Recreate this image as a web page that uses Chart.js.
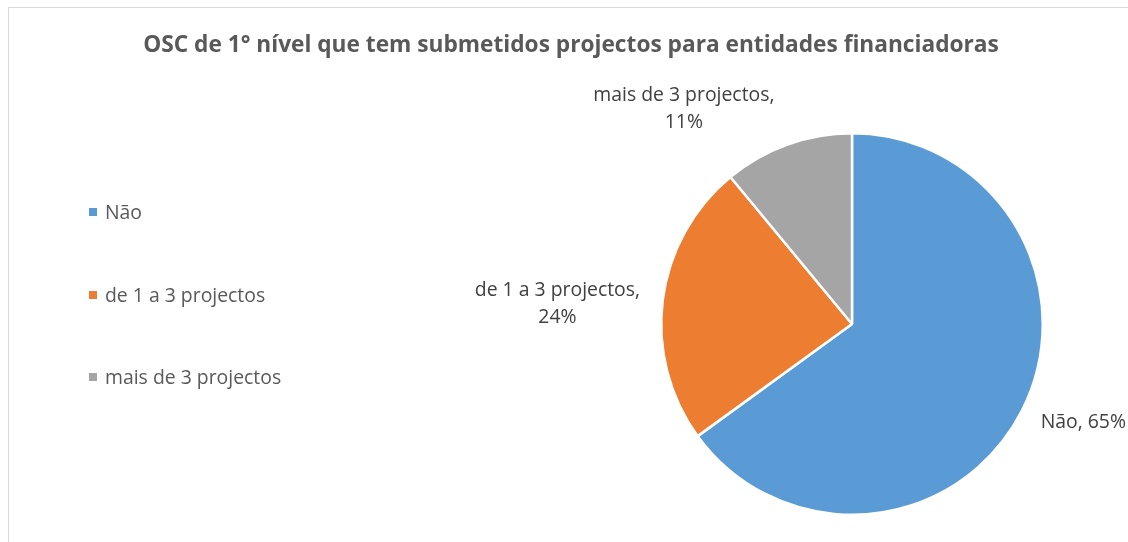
<!DOCTYPE html>
<html>
<head>
<meta charset="utf-8">
<script src="https://cdn.jsdelivr.net/npm/chart.js@4"></script>
<style>
  html, body { margin: 0; padding: 0; background: #fff; }
  #wrap { position: relative; width: 1128px; height: 542px; }
  #frame { position: absolute; left: 8px; top: 7px; width: 1200px; height: 600px; border: 1px solid #d9d9d9; box-sizing: border-box; }
  canvas { position: absolute; left: 0; top: 0; }
</style>
</head>
<body>
<div id="wrap">
  <div id="frame"></div>
  <canvas id="pie" width="1128" height="542"></canvas>
</div>
<script>
// Data
const categories = ['Não', 'de 1 a 3 projectos', 'mais de 3 projectos'];
const shares = [65, 24, 11];
const sliceColors = ['#5B9BD5', '#ED7D31', '#A5A5A5'];
const chartTitle = 'OSC de 1° nível que tem submetidos projectos para entidades financiadoras';

const FONT = "'Open Sans', sans-serif";

// label distance (x radius) and small vertical nudge per slice, like Excel's best fit
const labelDist = [1.11, 1.12, 1.2];
const labelNudge = [2, 7, 0];

const overlay = {
  id: 'overlay',
  afterDraw(chart) {
    const ctx = chart.ctx;
    ctx.save();

    // title
    ctx.fillStyle = '#595959';
    ctx.font = "bold 22.7px " + FONT;
    ctx.textAlign = 'center';
    ctx.textBaseline = 'middle';
    ctx.fillText(chartTitle, 571, 46);

    // legend
    ctx.font = "19.4px " + FONT;
    ctx.textAlign = 'left';
    const legendY = [212, 295, 377];
    categories.forEach((c, i) => {
      ctx.fillStyle = sliceColors[i];
      ctx.fillRect(89, legendY[i] - 4, 8, 8);
      ctx.fillStyle = '#595959';
      ctx.fillText(c, 105, legendY[i] + 1);
    });

    // data labels
    const meta = chart.getDatasetMeta(0);
    ctx.fillStyle = '#404040';
    meta.data.forEach((arc, i) => {
      const mid = (arc.startAngle + arc.endAngle) / 2;
      const d = arc.outerRadius * labelDist[i];
      const ax = arc.x + Math.cos(mid) * d;
      const ay = arc.y + Math.sin(mid) * d + labelNudge[i];
      const pct = shares[i] + '%';
      let lines;
      if (i === 0) lines = [categories[i] + ', ' + pct];
      else lines = [categories[i] + ',', pct];
      const w = Math.max(...lines.map(l => ctx.measureText(l).width));
      const lh = 27;
      const left = ax < arc.x ? ax - w : ax;
      const cx = left + w / 2;
      ctx.textAlign = 'center';
      lines.forEach((l, k) => {
        ctx.fillText(l, cx, ay + (k - (lines.length - 1) / 2) * lh);
      });
    });
    ctx.restore();
  }
};

new Chart(document.getElementById('pie'), {
  type: 'pie',
  data: {
    labels: categories,
    datasets: [{
      data: shares,
      backgroundColor: sliceColors,
      borderColor: '#ffffff',
      borderWidth: 2.5,
      hoverOffset: 0
    }]
  },
  options: {
    responsive: false,
    animation: false,
    layout: { padding: { left: 660, right: 84, top: 132, bottom: 26 } },
    plugins: {
      legend: { display: false },
      title: { display: false },
      tooltip: { enabled: false }
    }
  },
  plugins: [overlay]
});
</script>
</body>
</html>
